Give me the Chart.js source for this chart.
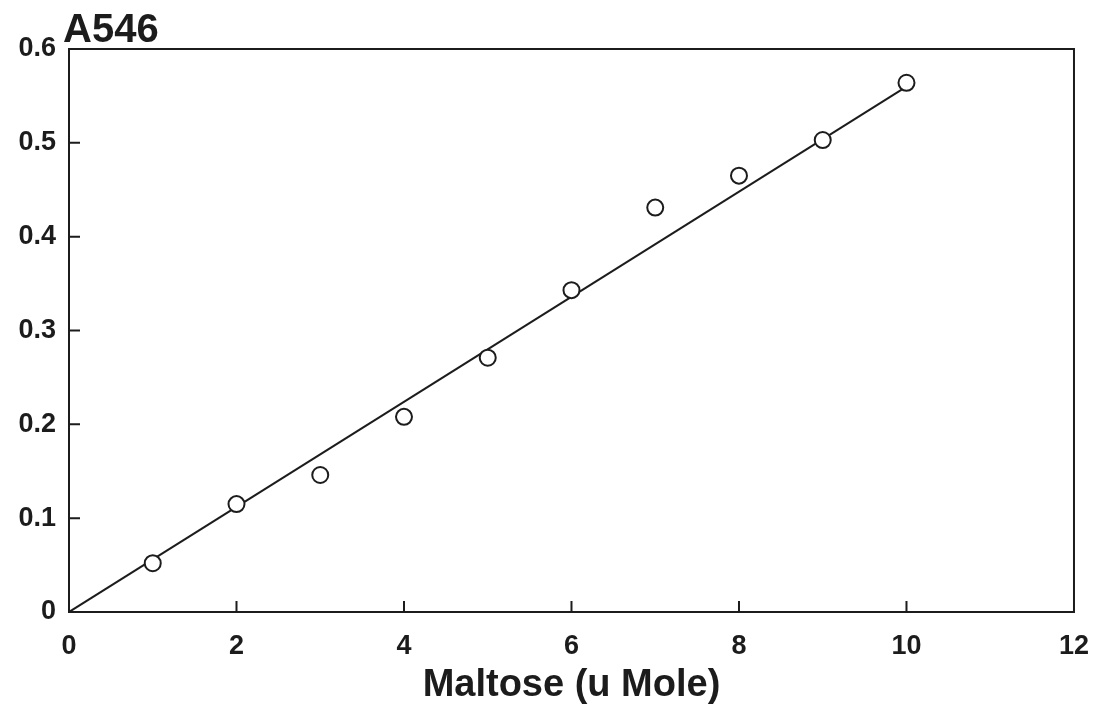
<!DOCTYPE html>
<html>
<head>
<meta charset="utf-8">
<script src="https://cdn.jsdelivr.net/npm/chart.js@4.4.1/dist/chart.umd.min.js"></script>
<style>
  html, body { margin: 0; padding: 0; background: #ffffff; }
  #wrap { width: 1107px; height: 708px; position: relative; }
</style>
</head>
<body>
<div id="wrap"><canvas id="c" width="1107" height="708"></canvas></div>
<script>
// ---- data ----
const maltose = [1, 2, 3, 4, 5, 6, 7, 8, 9, 10];               // u Mole
const a546 = [0.052, 0.115, 0.146, 0.208, 0.271, 0.343, 0.431, 0.465, 0.503, 0.564];
const fitX = [0, 10];
const fitY = [0, 0.56];
const xTickValues = [0, 2, 4, 6, 8, 10, 12];
const yTickValues = [0, 0.1, 0.2, 0.3, 0.4, 0.5, 0.6];
const yAxisTitle = 'A546';
const xAxisTitle = 'Maltose (u Mole)';

const INK = '#1c1c1c';
const FONT = "'Liberation Sans', Arial, sans-serif";

const points = maltose.map((x, i) => ({ x: x, y: a546[i] }));
const fitLine = fitX.map((x, i) => ({ x: x, y: fitY[i] }));

const framePlugin = {
  id: 'frame',
  afterDatasetsDraw(chart) {
    const { ctx, chartArea: a, scales } = chart;
    ctx.save();
    ctx.strokeStyle = INK;
    ctx.lineWidth = 2;
    ctx.strokeRect(a.left, a.top, a.right - a.left, a.bottom - a.top);
    // inward tick marks
    const len = 11;
    ctx.beginPath();
    xTickValues.slice(1, -1).forEach(v => {
      const px = scales.x.getPixelForValue(v);
      ctx.moveTo(px, a.bottom);
      ctx.lineTo(px, a.bottom - len);
    });
    yTickValues.slice(1, -1).forEach(v => {
      const py = scales.y.getPixelForValue(v);
      ctx.moveTo(a.left, py);
      ctx.lineTo(a.left + len, py);
    });
    ctx.stroke();
    // y-axis title at top-left
    ctx.fillStyle = INK;
    ctx.font = "bold 40px " + FONT;
    ctx.textAlign = 'left';
    ctx.textBaseline = 'alphabetic';
    ctx.fillText(yAxisTitle, a.left - 6, a.top - 7);
    ctx.restore();
  }
};

new Chart(document.getElementById('c'), {
  type: 'scatter',
  data: {
    datasets: [
      {
        type: 'line',
        data: fitLine,
        borderColor: INK,
        borderWidth: 2,
        pointRadius: 0,
        fill: false,
        tension: 0,
        order: 2
      },
      {
        type: 'scatter',
        data: points,
        pointStyle: 'circle',
        pointRadius: 8,
        pointHoverRadius: 8,
        borderWidth: 2,
        borderColor: INK,
        backgroundColor: '#ffffff',
        order: 1
      }
    ]
  },
  options: {
    responsive: false,
    animation: false,
    events: [],
    layout: { padding: { top: 49, right: 28, left: 0, bottom: 0 } },
    plugins: {
      legend: { display: false },
      tooltip: { enabled: false },
      title: { display: false }
    },
    scales: {
      x: {
        type: 'linear',
        min: 0,
        max: 12,
        afterBuildTicks(scale) { scale.ticks = xTickValues.map(v => ({ value: v })); },
        afterFit(scale) { scale.height = 96; },
        grid: { display: false, drawTicks: false },
        border: { display: false },
        ticks: {
          padding: 18,
          color: INK,
          font: { family: FONT, size: 27, weight: 'bold' },
          callback: v => String(v)
        },
        title: {
          display: true,
          text: xAxisTitle,
          color: INK,
          font: { family: FONT, size: 38, weight: 'bold' },
          padding: { top: 0, bottom: 0 }
        }
      },
      y: {
        type: 'linear',
        min: 0,
        max: 0.6,
        afterBuildTicks(scale) { scale.ticks = yTickValues.map(v => ({ value: v })); },
        afterFit(scale) { scale.width = 69; },
        grid: { display: false, drawTicks: false },
        border: { display: false },
        ticks: {
          padding: 13,
          color: INK,
          font: { family: FONT, size: 27, weight: 'bold' },
          callback: v => (v === 0 ? '0' : v.toFixed(1))
        }
      }
    }
  },
  plugins: [framePlugin]
});
</script>
</body>
</html>
